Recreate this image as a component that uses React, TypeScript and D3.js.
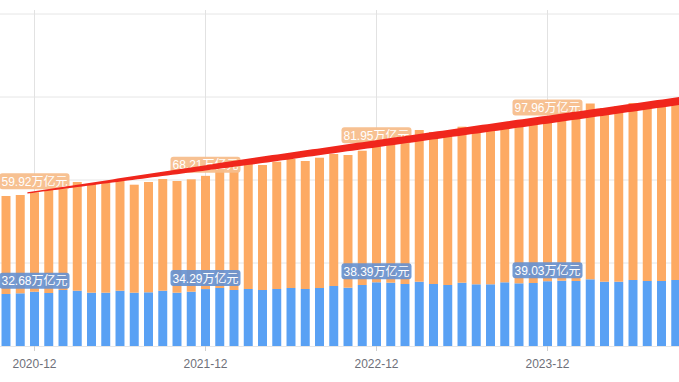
import React from "react";
import * as d3 from "d3";

const months = [
  "2020-10","2020-11","2020-12",
  "2021-01","2021-02","2021-03","2021-04","2021-05","2021-06","2021-07","2021-08","2021-09","2021-10","2021-11","2021-12",
  "2022-01","2022-02","2022-03","2022-04","2022-05","2022-06","2022-07","2022-08","2022-09","2022-10","2022-11","2022-12",
  "2023-01","2023-02","2023-03","2023-04","2023-05","2023-06","2023-07","2023-08","2023-09","2023-10","2023-11","2023-12",
  "2024-01","2024-02","2024-03","2024-04","2024-05","2024-06","2024-07","2024-08","2024-09","2024-10","2024-11","2024-12",
];

const blueValues = [
  31.33, 31.75, 32.68,
  31.93, 33.73, 33.31, 32.11, 32.11, 33.31, 32.11, 32.35, 33.31, 32.11, 32.71, 34.29,
  34.94, 33.73, 34.34, 33.73, 34.34, 34.94, 34.34, 34.94, 36.14, 35.12, 36.75, 38.39,
  38.13, 37.35, 38.73, 37.35, 36.75, 38.13, 37.17, 37.17, 38.37, 37.77, 37.95, 39.03,
  39.34, 39.16, 40.18, 38.73, 38.73, 39.76, 39.16, 39.16, 39.76, 39.5, 39.9, 40.2,
];

const orangeValues = [
  59.04, 59.22, 59.92,
  62.05, 62.05, 65.48, 65.48, 66.08, 66.08, 65.06, 66.45, 67.29, 67.29, 67.71, 68.21,
  71.08, 73.49, 75.30, 75.30, 76.69, 77.71, 77.11, 78.49, 79.52, 79.94, 80.90, 81.95,
  87.17, 88.55, 91.39, 91.57, 92.17, 93.98, 92.65, 92.35, 92.35, 94.40, 95.78, 97.96,
  97.17, 99.40, 105.90, 104.64, 105.84, 106.63, 107.23, 107.83, 108.43, 108.9, 110.3, 111.85,
];

const yTicks = [0, 50, 100, 150, 200];
const unit = "万亿元";

// trend annotation: from start of 2020-12 band to 2024-12 center
const trendStart = { month: "2020-12", value: 92.2 };
const trendEnd = { month: "2024-12", value: 150.9 };

const W = 679;
const H = 382;

export default function App() {
  const step = 14.25;
  const x0 = 6 - step / 2;
  const x = d3
    .scaleBand<string>()
    .domain(months)
    .range([x0, x0 + step * months.length])
    .paddingInner(0.37)
    .paddingOuter(0.185);
  const y = d3.scaleLinear().domain([0, 200]).range([346, 14]);
  const bw = x.bandwidth();
  const cx = (m: string) => (x(m) as number) + bw / 2;

  const labelMonths = months.filter((m) => m.endsWith("-12"));

  const fmt = (v: number) => v.toFixed(2) + unit;
  const textW = (s: string) => {
    let w = 0;
    for (const ch of s) {
      if (/[0-9]/.test(ch)) w += 6.67;
      else if (ch === ".") w += 3.33;
      else w += 12;
    }
    return w;
  };

  const label = (m: string, v: number, top: number, bg: string, key: string) => {
    const s = fmt(v);
    const tw = textW(s) + 4;
    const h = 16;
    const bx = cx(m) - tw / 2;
    const by = top - 3 - h;
    return (
      <g key={key}>
        <rect x={bx} y={by} width={tw} height={h} rx={3} fill={bg} />
        <text
          x={cx(m)}
          y={by + 12.5}
          textAnchor="middle"
          fontSize={12}
          fill="#fff"
          fontFamily="'Liberation Sans', Arial, 'Noto Sans CJK SC', sans-serif"
        >
          {s}
        </text>
      </g>
    );
  };

  // trend wedge
  const sx = x(trendStart.month) as number - (step - bw) / 2;
  const sy = y(trendStart.value);
  const ex = cx(trendEnd.month);
  const ey = y(trendEnd.value);
  const slope = (ey - sy) / (ex - sx);
  const widthAt = (px: number) => {
    const d = px - sx;
    if (d < 230) return 1.2 + (5.3 * d) / 230;
    return Math.min(8, 6.5 + (1.5 * (d - 230)) / 250);
  };
  const samples = d3.range(sx, ex + 1, 5);
  const upper = samples.map((px) => [px, sy + slope * (px - sx) - widthAt(px) / 2]);
  const lower = samples.map((px) => [px, sy + slope * (px - sx) + widthAt(px) / 2]).reverse();
  const wedge = d3.line()([...upper, ...lower] as [number, number][]) + "Z";

  return (
    <svg
      width={W}
      height={H}
      style={{ position: "absolute", left: 0, top: 0, background: "#fff" }}
      fontFamily="'Liberation Sans', Arial, sans-serif"
    >
      {yTicks.slice(1).map((t) => (
        <line key={t} x1={0} x2={W} y1={y(t)} y2={y(t)} stroke="#e6e6e6" strokeWidth={1} />
      ))}
      {labelMonths.map((m) => (
        <line key={m} x1={cx(m)} x2={cx(m)} y1={10} y2={346} stroke="#e2e2e2" strokeWidth={1} />
      ))}
      {months.map((m, i) => {
        const b = blueValues[i];
        const o = orangeValues[i];
        return (
          <g key={m}>
            <rect x={x(m)} width={bw} y={y(b)} height={y(0) - y(b)} fill="#59a1f4" />
            <rect x={x(m)} width={bw} y={y(b + o)} height={y(b) - y(b + o)} fill="#fdaa63" />
          </g>
        );
      })}
      <line x1={0} x2={W} y1={346.5} y2={346.5} stroke="#e6e6e6" />
      {labelMonths.map((m) => (
        <g key={m}>
          <line x1={cx(m)} x2={cx(m)} y1={346} y2={351} stroke="#cfcfcf" />
          <text x={cx(m)} y={368} textAnchor="middle" fontSize={12} fill="#6e7079">
            {m}
          </text>
        </g>
      ))}
      {labelMonths.map((m) => {
        const i = months.indexOf(m);
        return label(m, blueValues[i], y(blueValues[i]), "rgba(104,146,208,0.92)", "b" + m);
      })}
      {labelMonths.map((m) => {
        const i = months.indexOf(m);
        return label(m, orangeValues[i], y(blueValues[i] + orangeValues[i]), "rgba(247,190,140,0.95)", "o" + m);
      })}
      <path d={wedge} fill="#f0261c" />
    </svg>
  );
}
